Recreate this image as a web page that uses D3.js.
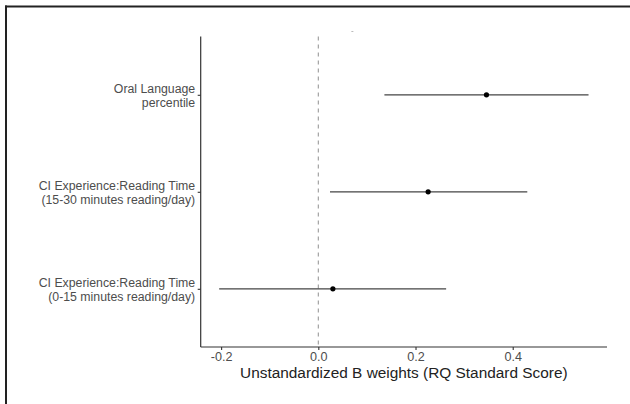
<!DOCTYPE html>
<html>
<head>
<meta charset="utf-8">
<script src="https://cdn.jsdelivr.net/npm/d3@7"></script>
<style>
  html, body { margin: 0; padding: 0; background: #fff; }
  svg { display: block; font-family: "Liberation Sans", Arial, sans-serif; }
</style>
</head>
<body>
<svg id="chart" width="630" height="404"></svg>
<script>
// ---- data ----
const categories = [
  ["Oral Language", "percentile"],
  ["CI Experience:Reading Time", "(15-30 minutes reading/day)"],
  ["CI Experience:Reading Time", "(0-15 minutes reading/day)"]
];
const estimates = [0.346, 0.226, 0.030];
const lower = [0.136, 0.024, -0.204];
const upper = [0.556, 0.430, 0.263];
const xTicks = [-0.2, 0.0, 0.2, 0.4];
const xTitle = "Unstandardized B weights (RQ Standard Score)";

const svg = d3.select("#chart");

// outer frame (top and left edges visible)
svg.append("line").attr("x1", 5).attr("x2", 630).attr("y1", 6.5).attr("y2", 6.5)
  .attr("stroke", "#222").attr("stroke-width", 2);
svg.append("line").attr("x1", 6).attr("x2", 6).attr("y1", 5.5).attr("y2", 404)
  .attr("stroke", "#222").attr("stroke-width", 2);

const plot = { left: 200.7, right: 607, top: 36.6, bottom: 347 };

const x = d3.scaleLinear().domain([-0.242, 0.594]).range([plot.left, plot.right]);
const y = d3.scalePoint().domain(d3.range(categories.length))
  .range([plot.top, plot.bottom]).padding(0.6);

// zero reference line
svg.append("line")
  .attr("x1", x(0)).attr("x2", x(0))
  .attr("y1", plot.top).attr("y2", plot.bottom)
  .attr("stroke", "#9a9a9a").attr("stroke-width", 1.1)
  .attr("stroke-dasharray", "4,4");

// tiny artifact mark near top
svg.append("rect").attr("x", x(0.068)).attr("y", 31).attr("width", 2).attr("height", 1)
  .attr("fill", "#bbb");

// error bars
svg.append("g").selectAll("line").data(d3.range(categories.length)).join("line")
  .attr("x1", i => x(lower[i])).attr("x2", i => x(upper[i]))
  .attr("y1", i => y(i)).attr("y2", i => y(i))
  .attr("stroke", "#444").attr("stroke-width", 1.3);

// points
svg.append("g").selectAll("circle").data(d3.range(categories.length)).join("circle")
  .attr("cx", i => x(estimates[i])).attr("cy", i => y(i)).attr("r", 2.6)
  .attr("fill", "#000");

// x axis
const xAxis = svg.append("g").attr("transform", `translate(0,${plot.bottom})`)
  .call(d3.axisBottom(x).tickValues(xTicks).tickFormat(d3.format(".1f")).tickSize(3).tickPadding(2));
xAxis.select(".domain").attr("stroke", "#333").attr("stroke-width", 1.2)
  .attr("d", `M${plot.left},0H${plot.right}`);
xAxis.selectAll(".tick line").attr("stroke", "#333").attr("stroke-width", 1.1);
xAxis.selectAll(".tick text").attr("fill", "#4d4d4d").attr("font-size", 12.6)
  .attr("font-family", "'Liberation Sans', Arial, sans-serif")
  .text(d => d3.format(".1f")(d).replace("−", "-"));

// y axis
const yAxis = svg.append("g").attr("transform", `translate(${plot.left},0)`)
  .call(d3.axisLeft(y).tickSize(3).tickFormat(""));
yAxis.select(".domain").attr("stroke", "#333").attr("stroke-width", 1.2)
  .attr("d", `M0,${plot.top}V${plot.bottom}`);
yAxis.selectAll(".tick line").attr("stroke", "#333").attr("stroke-width", 1.1);
yAxis.selectAll(".tick").each(function(i) {
  const t = d3.select(this).append("text")
    .attr("fill", "#4d4d4d").attr("font-size", 12.3)
    .attr("font-family", "'Liberation Sans', Arial, sans-serif")
    .attr("text-anchor", "end").attr("x", -5.5);
  categories[i].forEach((line, k) => {
    t.append("tspan").attr("x", -5.5).attr("y", k === 0 ? -2 : 11.5).text(line);
  });
});

// x title
svg.append("text")
  .attr("x", (plot.left + plot.right) / 2).attr("y", 377.5)
  .attr("text-anchor", "middle").attr("fill", "#222").attr("font-size", 15.4)
  .text(xTitle);
</script>
</body>
</html>
